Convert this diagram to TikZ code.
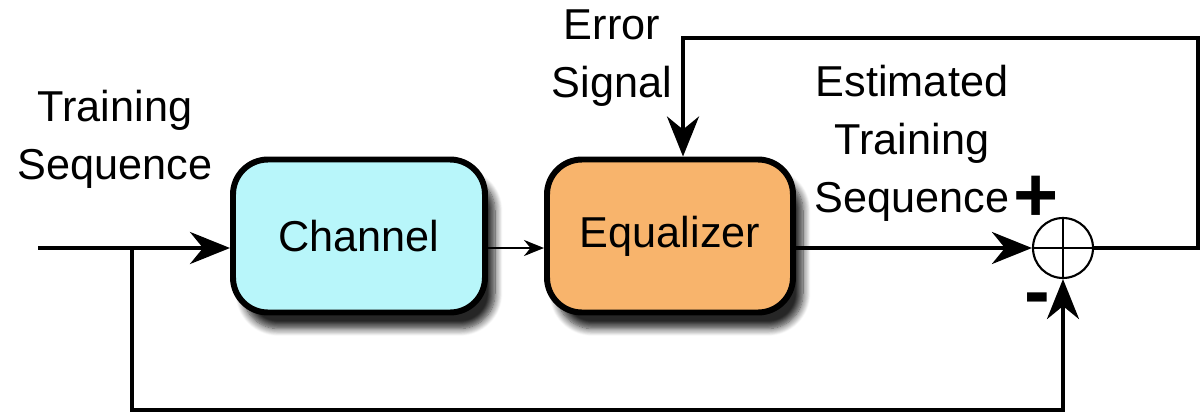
\documentclass[tikz,border=0pt]{standalone}
\usepackage{fontspec}
\setmainfont{Liberation Sans}
\usetikzlibrary{arrows.meta, shadows.blur}

\definecolor{chanfill}{HTML}{B8F6FA}
\definecolor{eqfill}{HTML}{F8B46C}

\begin{document}
\begin{tikzpicture}[
        font=\fontsize{12.3}{16.5}\selectfont,
        block/.style={draw, line width=1.7pt, rounded corners=0.35cm,
            minimum width=2.5cm, minimum height=1.53cm,
            blur shadow={shadow xshift=1mm, shadow yshift=-1.6mm, shadow blur steps=10, shadow opacity=85}}, % Стиль блоков
        wire/.style={line width=1.2pt}, % Основные линии
        big/.style={-{Stealth[length=4mm, width=3.2mm, inset=1.3mm]}},
        small/.style={-{Stealth[length=2mm, width=1.6mm]}},
        summer/.style={circle, draw, line width=0.6pt, minimum size=0.6cm, inner sep=0pt},
        txt/.style={align=center},
        sign/.style={font=\bfseries\fontsize{22}{22}\selectfont},
    ]
    \useasboundingbox (0,0) rectangle (12,4.15);

    % Блоки
    \node[block, fill=chanfill, minimum width=2.52cm] (chan) at (3.59,1.79) {Channel};
    \node[block, fill=eqfill, minimum width=2.46cm] (eq) at (6.70,1.79) {Equalizer};
    \node[summer] (sum) at (10.63,1.67) {};
    \draw[line width=0.6pt] (sum.north) -- (sum.south) (sum.west) -- (sum.east);

    % Точки линий
    \coordinate (in) at (0.38,1.67);
    \coordinate (split) at (1.32,1.67);
    \coordinate (low) at (1.32,0.05);
    \coordinate (back) at (11.98,3.77);

    % Подписи
    \node[txt] (trainlbl) at (1.15,2.76) {Training\\Sequence};
    \node[txt] (errlbl) at (6.12,3.57) {Error\\Signal};
    \node[txt] (estlbl) at (9.12,2.72) {Estimated\\Training\\Sequence};
    \node[sign] (plus) at (10.36,2.16) {+};
    \node[sign] (minus) at (10.37,1.10) {-};

    % Связи
    \draw[wire, big] (in) -- (in -| chan.west);
    \draw[line width=0.8pt, small] (chan.east |- in) -- (eq.west |- in);
    \draw[wire, big] (eq.east |- in) -- (sum.west);
    \draw[wire, big] (split) -- (low) -| (sum.south);
    \draw[wire, big] (sum.east) -| (back) -| (eq.north -| 6.83,0);
\end{tikzpicture}
\end{document}
